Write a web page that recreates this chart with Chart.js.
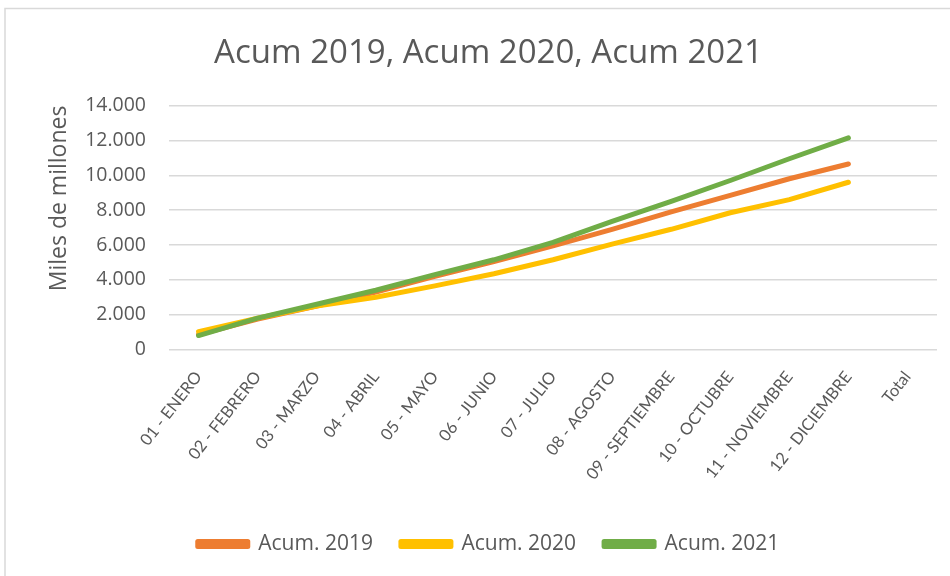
<!DOCTYPE html>
<html>
<head>
<meta charset="utf-8">
<script src="https://cdn.jsdelivr.net/npm/chart.js@4/dist/chart.umd.min.js"></script>
<style>
  html, body { margin: 0; padding: 0; background: #ffffff; }
  #wrap { width: 950px; height: 576px; position: relative; }
</style>
</head>
<body>
<div id="wrap"><canvas id="c" width="950" height="576"></canvas></div>
<script>
const categories = ['01 - ENERO', '02 - FEBRERO', '03 - MARZO', '04 - ABRIL', '05 - MAYO', '06 - JUNIO',
  '07 - JULIO', '08 - AGOSTO', '09 - SEPTIEMBRE', '10 - OCTUBRE', '11 - NOVIEMBRE', '12 - DICIEMBRE', 'Total'];
const acum2019 = [850, 1750, 2500, 3300, 4200, 5050, 5950, 6900, 7900, 8850, 9800, 10650, null];
const acum2020 = [1020, 1800, 2500, 3000, 3650, 4350, 5150, 6050, 6900, 7850, 8600, 9600, null];
const acum2021 = [800, 1800, 2600, 3400, 4300, 5150, 6150, 7350, 8500, 9700, 10950, 12150, null];
const yTickValues = [0, 2000, 4000, 6000, 8000, 10000, 12000, 14000];
const seriesNames = ['Acum. 2019', 'Acum. 2020', 'Acum. 2021'];
const chartTitle = 'Acum 2019, Acum 2020, Acum 2021';
const yAxisTitle = 'Miles de millones';

const TEXT = '#595959';
const FONT = "'Open Sans', 'Noto Sans', sans-serif";
const FONT_X = "Lato, 'Open Sans', sans-serif";

function fmt(v) {
  return String(v).replace(/\B(?=(\d{3})+(?!\d))/g, '.');
}

const framePlugin = {
  id: 'frame',
  beforeDraw(chart) {
    const ctx = chart.ctx;
    ctx.save();
    ctx.fillStyle = '#ffffff';
    ctx.fillRect(0, 0, chart.width, chart.height);
    ctx.strokeStyle = '#d9d9d9';
    ctx.lineWidth = 1.5;
    ctx.beginPath();
    ctx.moveTo(5, chart.height);
    ctx.lineTo(5, 8.5);
    ctx.lineTo(chart.width, 8.5);
    ctx.stroke();
    ctx.restore();
  }
};

function ds(label, data, color, order) {
  return {
    label, data,
    borderColor: color,
    backgroundColor: color,
    borderWidth: 5,
    borderCapStyle: 'round',
    borderJoinStyle: 'round',
    pointRadius: 0,
    pointHoverRadius: 0,
    tension: 0,
    spanGaps: false,
    order
  };
}

new Chart(document.getElementById('c'), {
  type: 'line',
  data: {
    labels: categories,
    datasets: [
      ds(seriesNames[0], acum2019, '#ED7D31', 3),
      ds(seriesNames[1], acum2020, '#FFC000', 2),
      ds(seriesNames[2], acum2021, '#70AD47', 1)
    ]
  },
  options: {
    responsive: false,
    animation: false,
    devicePixelRatio: 1,
    layout: { padding: { left: 40, right: 13, top: 0, bottom: 11.5 } },
    plugins: {
      tooltip: { enabled: false },
      title: {
        display: true,
        text: chartTitle,
        color: TEXT,
        font: { family: FONT, size: 33, weight: 'normal', lineHeight: 1.2 },
        padding: { top: 34, bottom: 32 }
      },
      legend: {
        position: 'bottom',
        labels: {
          color: TEXT,
          font: { family: FONT, size: 21 },
          boxWidth: 50,
          boxHeight: 5,
          padding: 28,
          sort: (a, b) => a.datasetIndex - b.datasetIndex
        }
      }
    },
    scales: {
      x: {
        offset: true,
        grid: { display: false, drawTicks: false },
        border: { display: false },
        ticks: {
          color: TEXT,
          font: { family: FONT_X, size: 16.5 },
          minRotation: 52,
          maxRotation: 52,
          autoSkip: false,
          padding: 18
        },
        afterFit(scale) { scale.height = 156; }
      },
      y: {
        min: 0,
        max: 14000,
        afterBuildTicks(scale) { scale.ticks = yTickValues.map(v => ({ value: v })); },
        grid: { color: '#d9d9d9', lineWidth: 1.5, drawTicks: false },
        border: { display: false },
        ticks: {
          color: TEXT,
          font: { family: FONT, size: 19.5 },
          padding: 23,
          callback: (v) => fmt(v)
        },
        title: {
          display: true,
          text: yAxisTitle,
          color: TEXT,
          align: 'end',
          font: { family: FONT, size: 23 },
          padding: { top: 6, bottom: 0 }
        },
        afterFit(scale) { scale.width = 129; }
      }
    }
  },
  plugins: [framePlugin]
});
</script>
</body>
</html>
